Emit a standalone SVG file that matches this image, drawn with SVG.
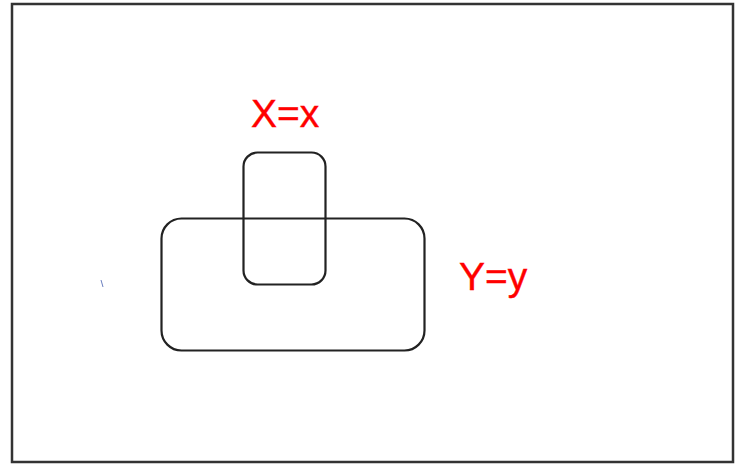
<svg xmlns="http://www.w3.org/2000/svg" width="735" height="465" viewBox="0 0 735 465">
<style>
.box{fill:none;stroke:#222;stroke-width:2.2}
.lbl{font-family:"Liberation Sans",Arial,sans-serif;font-size:39px;fill:#ff0000;stroke:#ff0000;stroke-width:0.4}
</style>
<rect x="0" y="0" width="735" height="465" fill="#fff"/>
<rect x="12" y="4" width="721" height="458" fill="none" stroke="#333" stroke-width="2.5"/>
<g id="Y">
<rect class="box" x="161.5" y="218.5" width="263" height="132" rx="20"/>
<text class="lbl" x="459" y="290">Y=y</text>
</g>
<g id="X">
<rect class="box" x="243.5" y="152.5" width="82" height="132" rx="14"/>
<text class="lbl" x="251" y="127">X=x</text>
</g>
<g id="connectors"></g>
<line x1="101" y1="280" x2="103" y2="287" stroke="#6b7fc0" stroke-width="1"/>
</svg>
